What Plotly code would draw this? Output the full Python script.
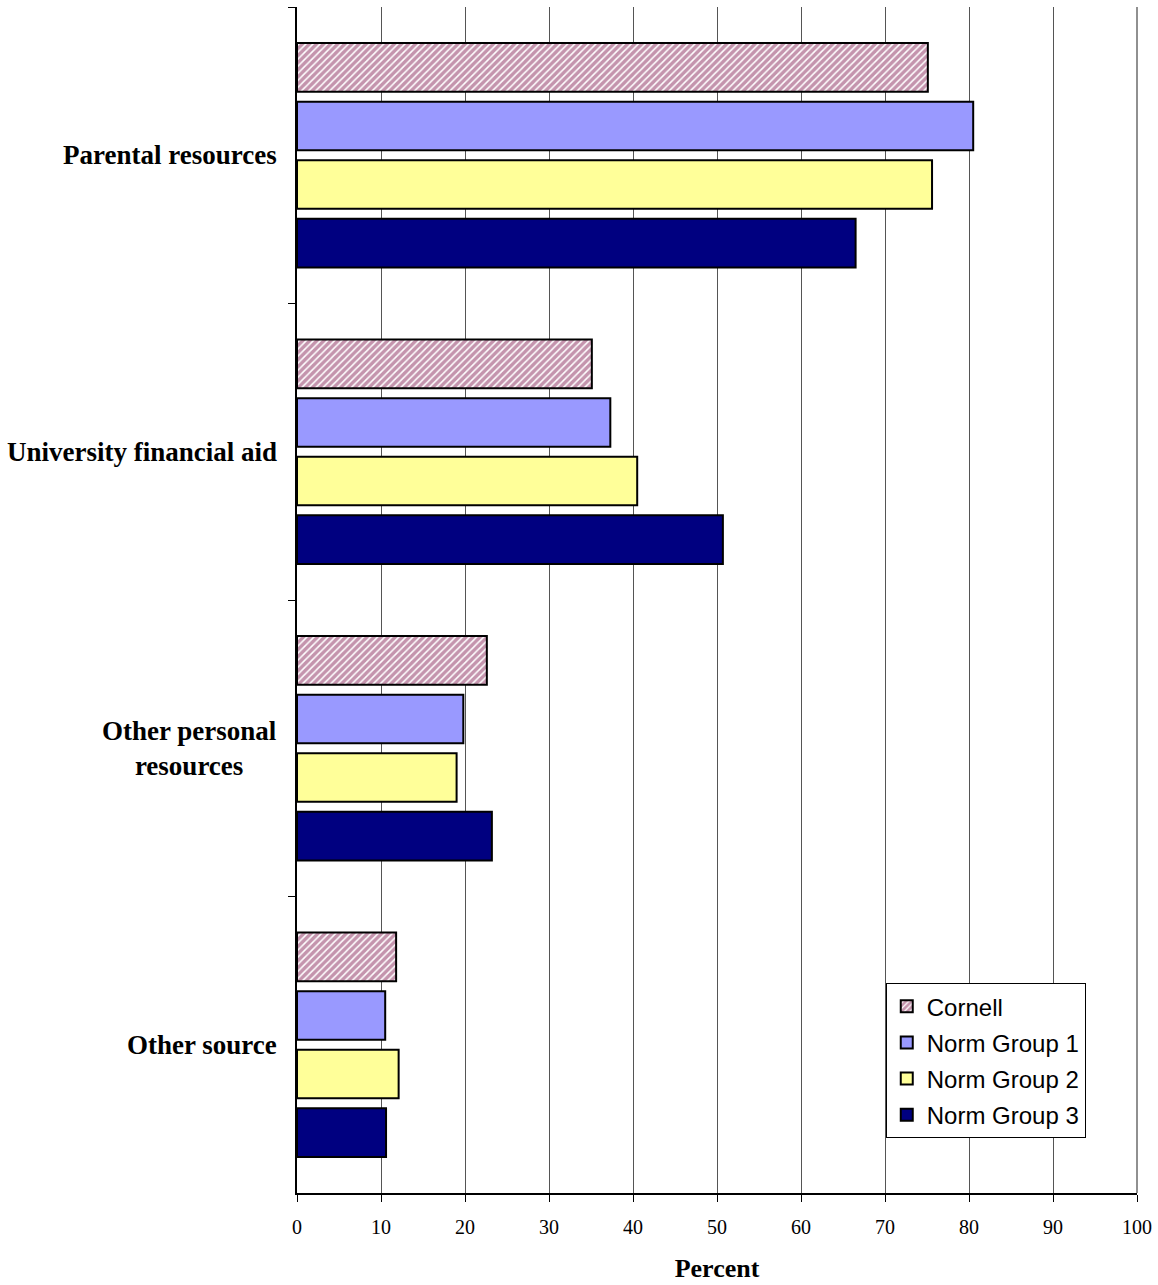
import plotly.graph_objects as go

categories = ["Parental resources", "University financial aid",
              "Other personal<br>resources", "Other source"]
series_names = ["Cornell", "Norm Group 1", "Norm Group 2", "Norm Group 3"]
cornell = [75.1, 35.1, 22.6, 11.8]
norm1 = [80.5, 37.3, 19.8, 10.5]
norm2 = [75.6, 40.5, 19.0, 12.1]
norm3 = [66.5, 50.7, 23.2, 10.6]
x_ticks = [0, 10, 20, 30, 40, 50, 60, 70, 80, 90, 100]

series_values = [cornell, norm1, norm2, norm3]
colours = ["#FFFFFF", "#9999FF", "#FFFF99", "#000080"]

fig = go.Figure()
for i, (name, vals) in enumerate(zip(series_names, series_values)):
    marker = dict(color=colours[i], line=dict(color="#000000", width=2))
    if i == 0:
        marker["pattern"] = dict(shape="/", fgcolor="#8A2A5C", bgcolor="#FFFFFF",
                                 size=5, solidity=0.7)
    fig.add_trace(go.Bar(
        y=categories, x=vals, name=name, orientation="h", marker=marker,
        legendgroup=name,
    ))

# category labels as annotations so the two-line label stays centred
for cat in categories:
    fig.add_annotation(
        x=0, xref="paper", y=cat, yref="y", text=f"<b>{cat}</b>",
        showarrow=False, xanchor="right", xshift=-18, align="center",
        font=dict(family="Liberation Serif", size=27, color="#000000"),
    )

fig.update_layout(
    width=1158, height=1285,
    margin=dict(l=297, r=21, t=7, b=92, autoexpand=False),
    barmode="group", bargap=0.21, bargroupgap=0.17,
    plot_bgcolor="#FFFFFF", paper_bgcolor="#FFFFFF",
    font=dict(family="Liberation Serif", size=20, color="#000000"),
    legend=dict(
        x=0.939, y=0.177, xanchor="right", yanchor="top",
        bgcolor="#FFFFFF", bordercolor="#000000", borderwidth=1,
        font=dict(family="Liberation Sans", size=24, color="#000000"),
        tracegroupgap=2, itemwidth=30,
    ),
)
fig.update_xaxes(
    range=[0, 100], tickvals=x_ticks, showgrid=True, gridcolor="#555555",
    gridwidth=1, zeroline=False, showline=True, linecolor="#000000",
    linewidth=2, ticks="outside", ticklen=7, tickcolor="#000000",
    ticklabelstandoff=8, automargin=False,
    title=dict(text="<b>Percent</b>", font=dict(size=26), standoff=22),
)
fig.update_yaxes(
    autorange="reversed", showticklabels=False, showline=True,
    linecolor="#000000", linewidth=2, ticks="outside", ticklen=7,
    tickson="boundaries", tickcolor="#000000", showgrid=False,
    automargin=False,
)
# right border of the plot area
fig.add_shape(type="line", xref="paper", yref="paper", x0=1, x1=1, y0=0, y1=1,
              line=dict(color="#909090", width=2))

# drop the browser's default body margin so the figure sits at the page corner
fig.write_html("out.html", config={"displayModeBar": False},
               post_script="document.body.style.margin='0';")
